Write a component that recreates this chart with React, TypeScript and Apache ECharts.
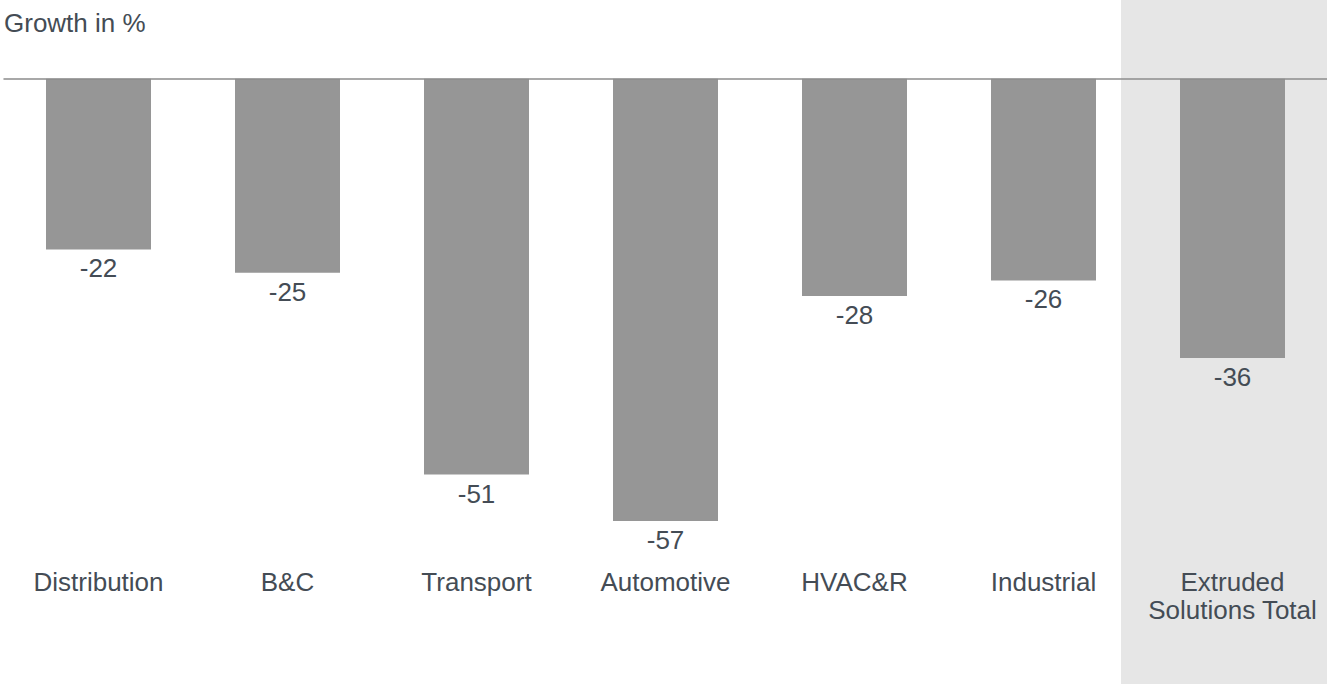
import React, { useEffect, useRef } from "react";
import * as echarts from "echarts";

const categories = [
  "Distribution",
  "B&C",
  "Transport",
  "Automotive",
  "HVAC&R",
  "Industrial",
  "Extruded\nSolutions Total",
];
const growth = [-22, -25, -51, -57, -28, -26, -36];

const unitLabel = "Growth in %";
const textColor = "#444c55";
const barColor = "#969696";
const fontFamily = "Liberation Sans, Arial, sans-serif";

export default function App() {
  const ref = useRef<HTMLDivElement>(null);

  useEffect(() => {
    if (!ref.current) return;
    const chart = echarts.init(ref.current, undefined, { renderer: "svg" });
    chart.setOption({
      animation: false,
      backgroundColor: "#ffffff",
      textStyle: { fontFamily },
      graphic: [
        {
          type: "rect",
          z: -1,
          shape: { x: 1121, y: 0, width: 206, height: 684 },
          style: { fill: "#e6e6e6" },
        },
        {
          type: "text",
          x: 4,
          y: 23,
          style: {
            text: unitLabel,
            fill: textColor,
            font: `26px ${fontFamily}`,
            verticalAlign: "middle",
          },
        },
      ],
      grid: { left: 4, right: 0, top: 78.7, bottom: 128 },
      xAxis: [
        {
          type: "category",
          data: categories,
          position: "top",
          axisLine: { show: true, lineStyle: { color: "#8c8c8c", width: 1.5 } },
          axisTick: { show: false },
          axisLabel: { show: false },
          z: 5,
        },
        {
          type: "category",
          data: categories,
          position: "bottom",
          axisLine: { show: false },
          axisTick: { show: false },
          axisLabel: {
            interval: 0,
            color: textColor,
            fontSize: 26,
            lineHeight: 28,
            margin: 12,
            fontFamily,
          },
        },
      ],
      yAxis: {
        type: "value",
        min: -61.5,
        max: 0,
        show: false,
        splitLine: { show: false },
      },
      series: [
        {
          type: "bar",
          data: growth,
          barWidth: 105,
          itemStyle: { color: barColor },
          label: {
            show: true,
            position: "bottom",
            distance: 6,
            color: textColor,
            fontSize: 26,
            fontFamily,
          },
        },
      ],
    });
    return () => chart.dispose();
  }, []);

  return (
    <div
      ref={ref}
      style={{ position: "absolute", left: 0, top: 0, width: 1327, height: 684 }}
    />
  );
}
